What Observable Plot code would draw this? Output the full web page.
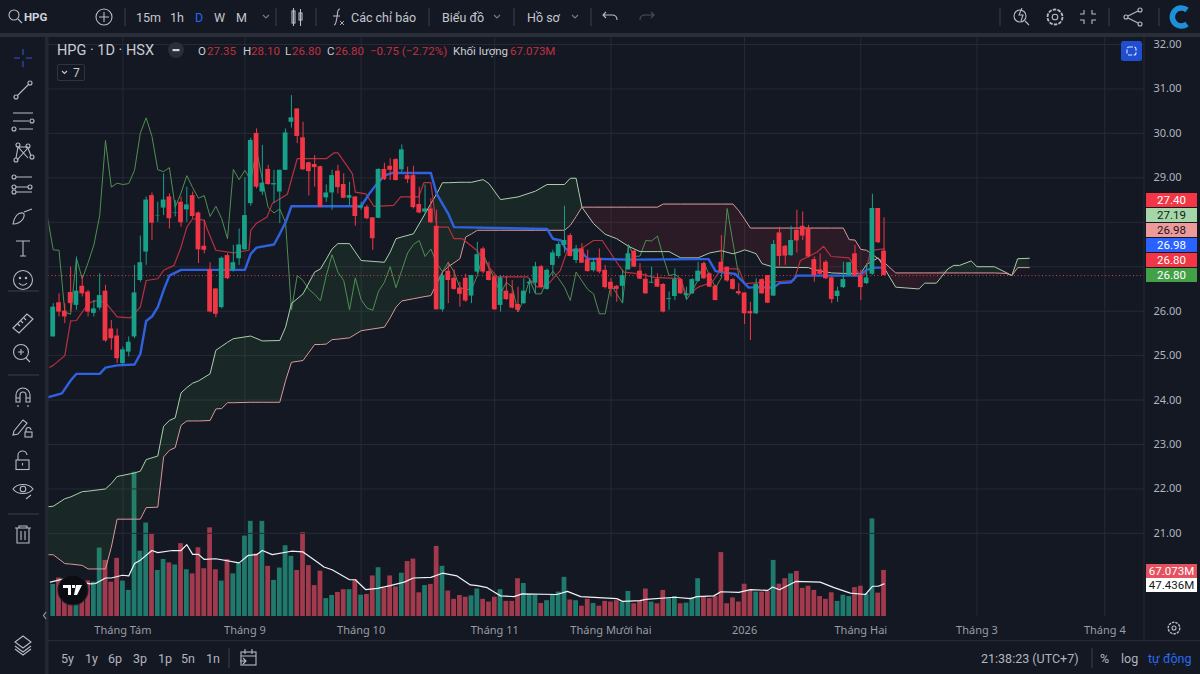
<!DOCTYPE html>
<html lang="vi">
<head>
<meta charset="utf-8">
<title>HPG 1D HSX</title>
<script src="https://cdn.jsdelivr.net/npm/d3@7"></script>
<script src="https://cdn.jsdelivr.net/npm/@observablehq/plot@0.6"></script>
<style>
html,body{margin:0;padding:0;background:#141823;overflow:hidden}
#root{position:relative;width:1200px;height:674px;overflow:hidden;background:#141823;font-family:Roboto,sans-serif}
#root svg{position:absolute;left:0;top:0}
.t{position:absolute;white-space:nowrap;transform:translateY(-50%);line-height:1}
.tag{position:absolute;left:1146px;width:51px;height:14px;line-height:14px;text-align:center;font:11.5px Roboto,sans-serif;color:#fff}
</style>
</head>
<body>
<div id="root"></div>
<script>
// Daily candles, first bar = index 0
const open = [25.42,26.19,26.0,26.42,26.13,26.56,26.43,25.95,26.07,26.45,25.6,25.44,24.82,25.08,25.42,26.69,27.33,28.6,28.14,28.32,28.57,28.2,28.45,28.28,28.6,
28.21,27.46,26.93,26.5,26.08,27.25,26.92,27.18,27.38,28.42,30.0,28.68,29.19,28.84,28.68,29.17,30.25,30.55,29.9,29.34,29.3,29.25,28.55,28.66,29.15,
28.85,28.54,28.57,28.32,28.34,28.1,28.09,29.19,29.26,29.41,29.18,29.05,29.05,28.4,28.23,28.3,27.91,26.03,26.9,26.74,26.52,26.74,26.34,26.88,27.4,
26.89,26.77,26.13,26.45,26.39,26.15,26.17,26.62,26.63,27.0,26.49,27.03,27.23,27.48,27.7,27.14,27.4,27.16,26.91,27.19,26.92,26.65,26.56,26.56,26.93,
27.35,26.9,26.72,26.63,26.72,26.6,26.26,26.33,26.71,26.35,26.39,26.67,27.07,26.84,26.56,27.1,26.99,26.71,26.44,26.41,25.99,25.94,26.71,26.8,26.34,
27.76,27.46,27.25,27.82,27.91,27.85,27.16,26.93,27.1,26.75,26.33,26.53,26.8,27.29,26.8,26.62,26.83,28.31,27.35];
const high = [26.17,26.39,26.17,26.99,27.22,26.8,26.47,26.24,26.84,26.58,25.79,25.6,25.19,25.42,27.03,27.69,28.57,28.66,28.45,29.09,28.64,28.49,28.57,28.79,28.68,
28.23,28.04,27.09,26.5,27.22,27.29,27.48,27.85,29.0,29.89,30.1,29.73,29.28,29.17,29.17,30.1,30.85,30.55,30.25,29.35,29.5,29.26,28.84,29.17,29.28,
29.09,28.9,28.57,28.45,28.38,28.1,29.2,29.33,29.43,29.43,29.74,29.24,29.26,28.79,28.84,28.53,28.27,26.84,27.1,26.93,26.65,26.83,26.8,27.55,27.44,
27.1,26.8,26.8,26.77,26.69,26.54,26.73,26.73,27.1,27.03,26.95,27.37,27.55,28.36,27.74,27.48,27.52,27.37,27.18,27.4,27.03,26.73,26.58,26.92,27.48,
27.37,27.07,26.84,26.99,26.84,26.62,26.43,26.95,26.73,26.54,26.73,27.1,27.1,26.86,26.58,27.7,26.99,26.73,26.62,26.41,26.2,26.73,26.73,26.8,27.59,
27.89,27.48,27.91,28.27,28.23,27.93,27.22,27.29,27.14,26.77,26.54,27.1,27.1,27.48,26.92,27.07,28.63,28.31,28.1];
const low = [25.42,25.87,25.72,25.98,26.02,26.32,25.87,25.87,26.02,25.3,25.12,24.82,24.78,24.97,25.38,26.65,27.03,27.59,28.0,28.15,27.85,28.12,27.89,28.0,28.08,
27.07,27.29,25.96,25.85,26.05,26.71,26.88,27.03,27.37,28.36,28.75,28.6,28.83,28.42,27.97,29.17,30.12,29.77,29.17,28.59,28.79,28.33,28.45,28.27,28.64,
28.53,28.38,27.91,28.27,28.06,27.37,28.08,28.94,28.94,28.93,29.11,28.87,28.3,28.19,28.19,27.97,26.03,25.98,26.17,26.47,26.09,26.2,26.17,26.84,26.84,
26.68,26.02,25.98,26.24,26.05,25.98,26.15,26.39,26.39,26.5,26.47,26.77,27.18,27.31,27.22,27.07,27.07,26.88,26.88,26.84,26.5,26.32,26.2,26.2,26.92,
26.98,26.71,26.38,26.62,26.53,25.96,26.02,26.24,26.38,26.24,26.38,26.65,26.71,26.53,26.23,26.87,26.65,26.47,26.35,25.7,25.34,25.93,26.38,26.17,26.33,
27.01,27.03,27.23,27.31,27.59,27.2,26.65,26.81,26.71,26.17,26.2,26.51,26.79,26.77,26.24,26.6,26.81,27.52,26.8];
const close = [26.09,25.98,25.87,26.17,26.45,26.39,25.98,26.05,26.35,25.33,25.38,24.93,25.13,25.3,26.41,27.09,28.5,27.98,28.15,28.5,28.08,28.21,27.99,28.39,28.13,
27.38,27.37,25.98,25.93,27.19,26.73,27.09,27.49,28.15,29.84,28.79,28.88,28.85,28.87,29.17,30.01,30.35,29.93,29.18,29.14,29.23,28.34,28.66,29.05,28.78,
28.54,28.6,28.13,28.36,28.08,27.63,29.19,28.96,29.17,28.94,29.63,28.96,28.33,28.21,28.3,27.99,26.03,26.8,26.69,26.49,26.38,26.23,26.8,27.27,26.88,
26.69,26.03,26.75,26.26,26.07,26.02,26.45,26.65,27.0,26.53,26.92,27.31,27.5,27.59,27.23,27.4,27.08,26.89,27.1,26.88,26.53,26.49,26.49,26.8,27.29,
26.99,26.72,26.39,26.65,26.54,25.98,26.28,26.71,26.39,26.39,26.71,26.9,26.73,26.54,26.24,26.88,26.68,26.49,26.39,25.94,25.94,26.6,26.39,26.18,27.5,
27.23,27.24,27.59,27.58,27.69,27.22,26.8,26.83,26.73,26.26,26.45,26.71,27.09,26.79,26.53,26.75,28.31,27.54,26.8];
const volume = [46.7,55.9,54,40,38,45,52,50,99.6,81.6,50,84.6,51.5,38,210,95,136,119.6,67,83,78,75,106,68,62,100,69.5,129,68,51.5,83,62,77,117,138.5,91,138.5,73,52.5,70.5,103,87.5,67,122,74,45,66,26,30.6,35,39,39,53.5,31,32,59,71,41,59,43,63,80,83.6,34.5,45,46.7,102,73,37,25,30.6,28,
30,40,25,21,28,39,22,22,55,48,32,31,19,23,32,35.5,57,24,23,15,25,19,15,22,21,23,21,36.5,18.5,22,40,21,18.5,38,26,29,18.5,19.5,27,55,28,26,29,93,18.5,27,21,47,38,35.5,35.5,36.5,81.6,47,55,62,65.6,41,44,38,29,25,34.5,22,31,29,42,44,33,142,34,67.07];

// Ichimoku lines, vertices as [bar index], [price]
const kijunAt  = [-1,1.5,3,4,8,9,11,14,15,16,17,18,19,20,22,33,34,35,38,39,40,41,53,54.5,55.5,57,58.4,65,66,68,69,85,86,87.4,88.2,89,90.8,92,99.4,111.4,112.8,114,116,117.4,119.7,121.3,124,125,127,128,138.7,140,141.5,143];
const kijunVal = [24.06,24.15,24.44,24.59,24.59,24.73,24.78,24.8,25.04,25.78,25.88,26.09,26.47,26.8,26.93,26.93,27.29,27.43,27.5,27.74,28.0,28.36,28.36,28.66,28.83,29.05,29.11,29.11,28.64,28.19,27.89,27.85,27.63,27.59,27.4,27.37,27.35,27.18,27.16,27.17,27.17,26.9,26.86,26.84,26.53,26.54,26.53,26.63,26.65,26.8,26.8,26.93,26.98,26.98];
const tenkanAt  = [-0.6,0,2,3,4,6,7,9,11,13.3,15,16,18,19,20.8,22,23,24,26,26.5,28,31,33.7,34,35,36.8,37.7,40.3,42,47,48.3,49,50.3,51.5,52,53.8,55.2,58.6,59.8,62.9,63.8,65,66,68,69,70.4,72.9,73.8,75,76.4,81.6,83.3,85,87.3,88.5,90.8,93,94.5,97,98.2,101,103.4,108,109,111,113.4,115,118,119,127.5,128.6,131.5,132.6,133.9,137,138.7,139.8,140.7,143];
const tenkanVal = [24.74,24.78,25.0,25.78,25.79,26.17,26.23,26.2,25.87,25.85,26.09,26.69,26.73,26.92,27.03,27.44,27.89,28.08,28.05,27.85,27.37,27.31,27.37,27.82,27.98,28.12,28.42,28.63,29.43,29.43,29.56,29.56,29.32,29.09,28.68,28.64,28.36,28.38,28.57,28.57,28.89,28.89,27.89,27.89,27.63,27.63,27.37,27.22,26.99,26.77,26.77,26.54,26.58,26.92,27.37,27.4,27.59,27.59,27.1,26.88,26.84,26.76,26.73,26.35,26.54,26.65,26.95,26.95,26.62,26.69,27.14,27.33,27.46,27.23,27.2,26.84,26.84,27.37,27.4];
// Lagging line, one value per bar from index -1 to 118
const chikouStart = -1;
const chikou = [28.13,27.38,27.37,25.98,25.93,27.19,26.73,27.09,27.49,28.15,29.84,28.79,28.88,28.85,28.87,29.17,30.01,30.35,29.93,29.18,29.14,29.23,28.34,28.66,29.05,28.78,
28.54,28.6,28.13,28.36,28.08,27.63,29.19,28.96,29.17,28.94,29.63,28.96,28.33,28.21,28.3,27.99,26.03,26.8,26.69,26.49,26.38,26.23,26.8,27.27,26.88,
26.69,26.03,26.75,26.26,26.07,26.02,26.45,26.65,27.0,26.53,26.92,27.31,27.5,27.59,27.23,27.4,27.08,26.89,27.1,26.88,26.53,26.49,26.49,26.8,27.29,
26.99,26.72,26.39,26.65,26.54,25.98,26.28,26.71,26.39,26.39,26.71,26.9,26.73,26.54,26.24,26.88,26.68,26.49,26.39,25.94,25.94,26.6,26.39,26.18,27.5,
27.23,27.24,27.59,27.58,27.69,27.22,26.8,26.83,26.73,26.26,26.45,26.71,27.09,26.79,26.53,26.75,28.31,27.54,26.8];
const cloudAt = [-1,0,2,3,5,6,9,10,11,14,15,16,18,19,20,21,22,23,24,25,27,28,29,30,31,34,36,39,40,41,43,45,46,47,48,49,51,53,57,58,59,60,62,64,65,66,67,68,70,71,72,73,74,75,77,80,83,85,88,89,90,91,93,95,97,99,101,104,105,106,108,111,113,115,117,118,119,120,121,122,124,130,131,134,136,137,138,139,140,142,143,145,149,150,152,154,155,156,158,159,162,164,165,166,168];
const spanA = [21.6,21.61,21.78,21.82,21.94,21.95,22.0,22.12,22.28,22.36,22.4,22.66,22.74,23.41,23.54,23.6,24.16,24.28,24.38,24.43,24.59,25.12,25.21,25.3,25.38,25.44,25.33,25.34,25.64,26.17,26.39,26.88,26.95,27.17,27.4,27.52,27.52,27.14,27.1,27.33,27.63,27.67,27.74,28.19,28.42,28.64,28.89,28.89,28.9,28.9,28.9,28.93,28.96,28.87,28.51,28.57,28.7,28.85,28.85,28.99,28.99,28.34,27.97,27.73,27.63,27.46,27.34,27.34,27.34,27.34,27.2,27.2,27.31,27.36,27.29,27.33,27.38,27.34,27.29,27.07,26.99,26.98,26.93,26.86,26.85,26.85,26.85,26.85,27.05,27.2,26.98,26.54,26.5,26.63,26.63,26.95,27.03,27.03,27.13,27.0,27.0,26.87,26.8,27.18,27.19];
const spanB = [20.52,20.52,20.32,20.31,20.28,20.2,20.2,20.69,21.32,21.32,21.32,21.58,21.59,22.72,22.87,22.93,23.43,23.53,23.53,23.53,23.54,23.8,23.81,23.94,23.94,23.95,23.95,23.95,24.44,24.85,24.89,25.25,25.25,25.26,25.36,25.37,25.4,25.56,25.64,25.85,26.09,26.23,26.28,26.33,26.35,26.62,26.88,27.0,27.18,27.67,27.74,27.82,27.82,27.82,27.82,27.82,27.82,27.82,27.82,27.93,28.13,28.34,28.34,28.34,28.34,28.34,28.34,28.34,28.41,28.41,28.41,28.41,28.41,28.41,28.41,28.26,28.07,27.87,27.87,27.87,27.87,27.87,27.87,27.87,27.87,27.61,27.6,27.39,27.37,27.18,27.1,26.86,26.86,26.86,26.86,26.86,26.86,26.86,26.86,26.86,26.86,26.85,26.8,26.98,26.98];
const smaAt = [-0.5,2,6.4,7.3,9,10,11.9,13,14,15,17,18,20.5,22,23,24,25,26,28,32,33.6,35,36,37.7,41,43,45.5,46.6,48,51,52,53.8,55.8,58,60.4,62,65,67,69.5,71.8,73,74.7,75.9,77,79.3,80.7,86.7,88.5,90.8,97,98,101,102,107,109.7,110.8,113.7,114.9,118,120,123,123.8,125,127.8,132,134.4,137.2,139.8,141,142,143];
const smaVal = [50,55,47.6,48,56,56,60,59,77,82,96,93,96,96,104.5,90.4,90.4,83,84,78,89,90,96,90,95,94,79,72,68,53.5,53.5,39,41,45,50,56,57,63,59,46,45,42,35.5,30,29,33,32,36.5,29,26,22,23,25,28,26,29,30,36,35,39,38,43,39,51,50,42,34,32,44,44,47.44];

// Axis values and labels: 27 and 28 have grid lines, their labels sit behind the price tags
const priceTicks = [21,22,23,24,25,26,27,28,29,30,31,32];
const priceLabels = [21,22,23,24,25,26,29,30,31,32];
const monthAt = [12,33,53,76,96,119,139,159,181];
const monthNames = ["Tháng Tám","Tháng 9","Tháng 10","Tháng 11","Tháng Mười hai","2026","Tháng Hai","Tháng 3","Tháng 4"];
const lastPrice = 26.8;

// Tables built from the arrays
const bars = close.map((c,i)=>({i,o:open[i],h:high[i],l:low[i],c,v:volume[i],up:c>=open[i]}));
const zip = (xs,ys)=>xs.map((x,k)=>({x,y:ys[k]}));
const chikouRows = chikou.map((y,k)=>({x:chikouStart+k,y}));
const cloud = cloudAt.map((x,k)=>({x,a:spanA[k],b:spanB[k]}));

const TEAL="#18a189", RED="#f23645", VTEAL="#1f7a6d", VRED="#a13a4d";
const frame = {width:1200,height:674,marginLeft:48,marginRight:56,marginTop:36,marginBottom:58,
  style:{background:"transparent",overflow:"visible"}};
const xScale = {domain:[-0.81,187.83],axis:null};
const root = document.getElementById("root");

const vol = Plot.plot({...frame,clip:true,x:xScale,y:{domain:[0,844],axis:null},marks:[
  Plot.ruleX(monthAt,{stroke:"#262a36",strokeWidth:1}),
  Plot.rect(bars,{filter:d=>d.up,x1:d=>d.i-.41,x2:d=>d.i+.41,y1:0,y2:"v",fill:VTEAL}),
  Plot.rect(bars,{filter:d=>!d.up,x1:d=>d.i-.41,x2:d=>d.i+.41,y1:0,y2:"v",fill:VRED}),
  Plot.line(zip(smaAt,smaVal),{x:"x",y:"y",stroke:"#f0f1f4",strokeWidth:1.2})
]});

const price = Plot.plot({...frame,clip:true,x:xScale,y:{domain:[19.13,32.18]},marks:[
  Plot.gridY(priceTicks,{stroke:"#262a36",strokeOpacity:1,clip:true}),
  Plot.axisY(priceLabels,{anchor:"right",tickSize:0,tickPadding:9,tickFormat:d3.format(".2f"),fontSize:11,fill:"#b2b5be",label:null,clip:false}),
  Plot.axisX(monthAt,{anchor:"bottom",tickSize:0,tickPadding:10,tickFormat:d=>monthNames[monthAt.indexOf(d)],fontSize:11,fill:"#9a9da6",label:null,clip:false}),
  Plot.areaY(cloud,{x:"x",y1:"b",y2:d=>Math.max(d.a,d.b),fill:"#4caf50",fillOpacity:.1}),
  Plot.areaY(cloud,{x:"x",y1:"a",y2:d=>Math.max(d.a,d.b),fill:"#f23645",fillOpacity:.1}),
  Plot.ruleY([lastPrice],{stroke:"#e0404f",strokeWidth:1,strokeDasharray:"1,2.5"}),
  Plot.line(chikouRows,{x:"x",y:"y",stroke:"#4f8f52",strokeWidth:1}),
  Plot.line(zip(cloudAt,spanA),{x:"x",y:"y",stroke:"#a9cdaa",strokeWidth:1}),
  Plot.line(zip(cloudAt,spanB),{x:"x",y:"y",stroke:"#dc9a9c",strokeWidth:1}),
  Plot.line(zip(tenkanAt,tenkanVal),{x:"x",y:"y",stroke:"#b8303f",strokeWidth:1.2}),
  Plot.line(zip(kijunAt,kijunVal),{x:"x",y:"y",stroke:"#2f62e0",strokeWidth:2.4}),
  Plot.ruleX(bars,{filter:d=>d.up,x:"i",y1:"l",y2:"h",stroke:TEAL,strokeWidth:1}),
  Plot.ruleX(bars,{filter:d=>!d.up,x:"i",y1:"l",y2:"h",stroke:RED,strokeWidth:1}),
  Plot.rect(bars,{filter:d=>d.up,x1:d=>d.i-.41,x2:d=>d.i+.41,y1:"o",y2:"c",fill:TEAL}),
  Plot.rect(bars,{filter:d=>!d.up,x1:d=>d.i-.41,x2:d=>d.i+.41,y1:"o",y2:"c",fill:RED})
]});
root.append(vol,price);

// Interface chrome
const s="#b8bbc4";
const chrome = `<svg width="1200" height="674" style="z-index:3;pointer-events:none" fill="none" stroke="${s}" stroke-width="1.1">
<rect x="0" y="33" width="1200" height="4" fill="#2a2e39" stroke="none"/>
<rect x="45" y="37" width="3.5" height="637" fill="#232733" stroke="none"/>
<rect x="48" y="640" width="1152" height="1.2" fill="#262a36" stroke="none"/>
<rect x="1143.5" y="37" width="1" height="603" fill="#262a36" stroke="none"/>
<g stroke="#3a3e4a">
<path d="M125 8v18M276 8v18M316 8v18M429 8v18M514 8v18M591 8v18M1000 8v18M1109 8v18M1159 8v18M229 648v20M1092 648v20"/>
<path d="M8 291h31M8 375h31M8 514h31"/></g>
<circle cx="14" cy="15" r="5"/><path d="M18 19l4 4"/>
<circle cx="104" cy="17" r="8"/><path d="M104 12v10M99 17h10"/>
<path d="M263 15l3 3 3-3M494 15l3 3 3-3M572 15l3 3 3-3" stroke="#787b86"/>
<rect x="292" y="11" width="3" height="12"/><path d="M293.5 8v18"/><rect x="299" y="13" width="3" height="7"/><path d="M300.5 9v17"/>
<path d="M340 9c-3 0-2 3-3 8s-1 8-3 8M333 16h7" /><path d="M340 21l4 4M344 21l-4 4" stroke-width=".9"/>
<path d="M606 15l-3 3 3 3M603 18h9c3 0 5 2 5 5" transform="translate(0,-3)"/>
<path d="M651 15l3 3-3 3M654 18h-9c-3 0-5 2-5 5" transform="translate(0,-3)" stroke="#4a4e5a"/>
<circle cx="1020" cy="16" r="6"/><path d="M1025 21l4 4M1022 8l-3 7h4l-2 6"/>
<circle cx="1055" cy="17" r="2.8"/><circle cx="1055" cy="17" r="7.5" stroke-dasharray="3.5 1.2" stroke-width="1.8"/>
<path d="M1084 10v4h-4M1092 10v4h4M1084 24v-4h-4M1092 24v-4h4"/>
<circle cx="1126" cy="17" r="2"/><circle cx="1140" cy="10" r="2"/><circle cx="1140" cy="24" r="2"/><path d="M1128 16l10-5M1128 18l10 5"/>
<path d="M1187 10a9 9 0 1 0 0 14" stroke="#1e90d8" stroke-width="5.5"/>
<rect x="1121" y="41" width="21" height="20" rx="2.5" fill="#1f4fd0" stroke="none"/>
<rect x="1127" y="47" width="9" height="8" rx="2" stroke="#dfe6ff" stroke-dasharray="4 1.5"/>
<circle cx="176" cy="50" r="8" fill="#2a2e39" stroke="none"/><rect x="172.5" y="49" width="7" height="2.2" fill="#cfd2da" stroke="none"/>
<rect x="57.5" y="64.5" width="27" height="16" rx="2" stroke="#2f333f"/><path d="M62 71l2.5 2.5 2.5-2.5" stroke="#c8cad1"/>
<g stroke="#2d57d8"><path d="M23 49v6M23 61v6M14 58h6M26 58h6"/></g>
<circle cx="16" cy="97" r="2"/><circle cx="30" cy="83" r="2"/><path d="M17.5 95.5l11-11"/>
<path d="M13 113h20M13 121h16M19 129h14"/><circle cx="32" cy="121" r="2"/><circle cx="14" cy="129" r="2"/>
<circle cx="16" cy="160" r="2"/><circle cx="18" cy="145" r="2"/><circle cx="28" cy="146" r="2"/><circle cx="32" cy="157" r="2"/><path d="M16 158l2-11 10 11M19 147l9 0M17 160l11-12 3 8"/>
<circle cx="14" cy="177" r="2"/><circle cx="14" cy="187" r="2"/><circle cx="14" cy="192" r="2"/><circle cx="30" cy="187" r="2"/><path d="M16 177h16M16 187h12M16 192h16" />
<path d="M13 224c1-7 5-12 10-11 2 1 1 4 0 6-3 4-7 5-10 5zM24 212l8-3" />
<path d="M16 241h14M23 241v15M20 256h6"/>
<circle cx="23" cy="280" r="9.5"/><circle cx="20" cy="278" r=".7"/><circle cx="26" cy="278" r=".7"/><path d="M19 283c2 3 6 3 8 0"/>
<path d="M13 328l14-14 6 5-14 14zM18 324l2 2M21 321l2 2M24 318l2 2"/>
<circle cx="21" cy="352" r="7.5"/><path d="M26 358l4 4M18 352h6M21 349v6"/>
<path d="M16 402v-7a7 7 0 0 1 14 0v7h-4v-7a3 3 0 0 0-6 0v7zM16 398h4M26 398h4M18 405v2M28 405v2"/>
<path d="M14 431l9-11 4 3-9 11-5 1z"/><rect x="25" y="432" width="7" height="5"/><path d="M26 432v-2a2.5 2.5 0 0 1 5 0"/>
<rect x="16" y="460" width="13" height="9.5"/><path d="M18 460v-4a4.5 4.5 0 0 1 9-1"/><path d="M22.5 463v2.5"/>
<path d="M13 489c4-6 16-6 20 0-4 6-16 6-20 0z"/><circle cx="23" cy="489" r="2.8"/><path d="M26 499l5-4"/>
<path d="M15 528h16M19 528v-2h8v2M17 528v15h12v-15M21 531v9M25 531v9"/>
<path d="M46 612l-2.5 3.5 2.5 3.5" stroke="#9a9da6"/>
<path d="M23 636l8 6-8 6-8-6zM15 646l8 6 8-6M15 649l8 6 8-6"/>
<rect x="241" y="652" width="15" height="13"/><path d="M241 656h15M245 649v5M252 649v5M240 661h6M243 658l3 3-3 3"/>
<circle cx="1174" cy="628" r="2"/><circle cx="1174" cy="628" r="5.8" stroke-dasharray="2.5 1" stroke-width="1.4"/>
<circle cx="73" cy="590" r="15" fill="#0b0d13" stroke="#1c1f29"/>
<path d="M63 585h8v10h-3v-7h-5zM72 585h3v3h-3zM76 585h6l-5 10h-3z" fill="#fff" stroke="none"/>
</svg>`;
root.insertAdjacentHTML("beforeend",chrome);

const labels=[
 ["HPG",24,17,"bold 11.5px Roboto","#d1d4dc"],
 ["15m",136,17,"12.5px Roboto","#c4c7cf"],["1h",170,17,"12.5px Roboto","#c4c7cf"],["D",195,17,"12.5px Roboto","#2962ff"],["W",214,17,"12.5px Roboto","#c4c7cf"],["M",236,17,"12.5px Roboto","#c4c7cf"],
 ["Các chỉ báo",351,17,"12.5px Roboto","#c4c7cf"],["Biểu đồ",442,17,"12.5px Roboto","#c4c7cf"],["Hồ sơ",527,17,"12.5px Roboto","#c4c7cf"],
 ["HPG · 1D · HSX",57,50,"14.5px Roboto","#c9ccd4"],
 ["O",198,51,"11.5px Roboto","#c9ccd4"],["27.35",207,51,"11.5px Roboto","#c2303f"],
 ["H",243,51,"11.5px Roboto","#c9ccd4"],["28.10",251,51,"11.5px Roboto","#c2303f"],
 ["L",285,51,"11.5px Roboto","#c9ccd4"],["26.80",292,51,"11.5px Roboto","#c2303f"],
 ["C",327,51,"11.5px Roboto","#c9ccd4"],["26.80",335,51,"11.5px Roboto","#c2303f"],
 ["−0.75 (−2.72%)",370,51,"11.5px Roboto","#c2303f"],
 ["Khối lượng",453,51,"11.5px Roboto","#c9ccd4"],["67.073M",510,51,"11.5px Roboto","#c2303f"],
 ["7",73,73,"12px Roboto","#c9ccd4"],
 ["5y",61,658,"12.5px Roboto","#b2b5be"],["1y",85,658,"12.5px Roboto","#b2b5be"],["6p",108,658,"12.5px Roboto","#b2b5be"],["3p",133,658,"12.5px Roboto","#b2b5be"],["1p",158,658,"12.5px Roboto","#b2b5be"],["5n",181,658,"12.5px Roboto","#b2b5be"],["1n",206,658,"12.5px Roboto","#b2b5be"],
 ["21:38:23 (UTC+7)",981,658,"12.5px Roboto","#b2b5be"],["%",1100,658,"12.5px Roboto","#b2b5be"],["log",1121,658,"12.5px Roboto","#b2b5be"],["tự động",1148,658,"12.5px Roboto","#2a6bf0"]
];
for(const [txt,x,y,font,color] of labels){
  const e=document.createElement("div");e.className="t";e.textContent=txt;
  e.style.cssText=`left:${x}px;top:${y}px;font:${font},sans-serif;color:${color};z-index:4`;
  root.append(e);
}
const tags=[["27.40",193,"#f23645","#fff"],["27.19",208,"#a5d6a7","#131722"],["26.98",223,"#ef9a9a","#131722"],["26.98",238,"#2962ff","#fff"],["26.80",253,"#f23645","#fff"],["26.80",268,"#43a047","#fff"],["67.073M",564,"#e4525f","#fff"],["47.436M",578,"#ffffff","#131722"]];
for(const [txt,y,bg,fg] of tags){
  const e=document.createElement("div");e.className="tag";e.textContent=txt;
  e.style.cssText=`top:${y}px;background:${bg};color:${fg};z-index:4`;
  root.append(e);
}
</script>
</body>
</html>
